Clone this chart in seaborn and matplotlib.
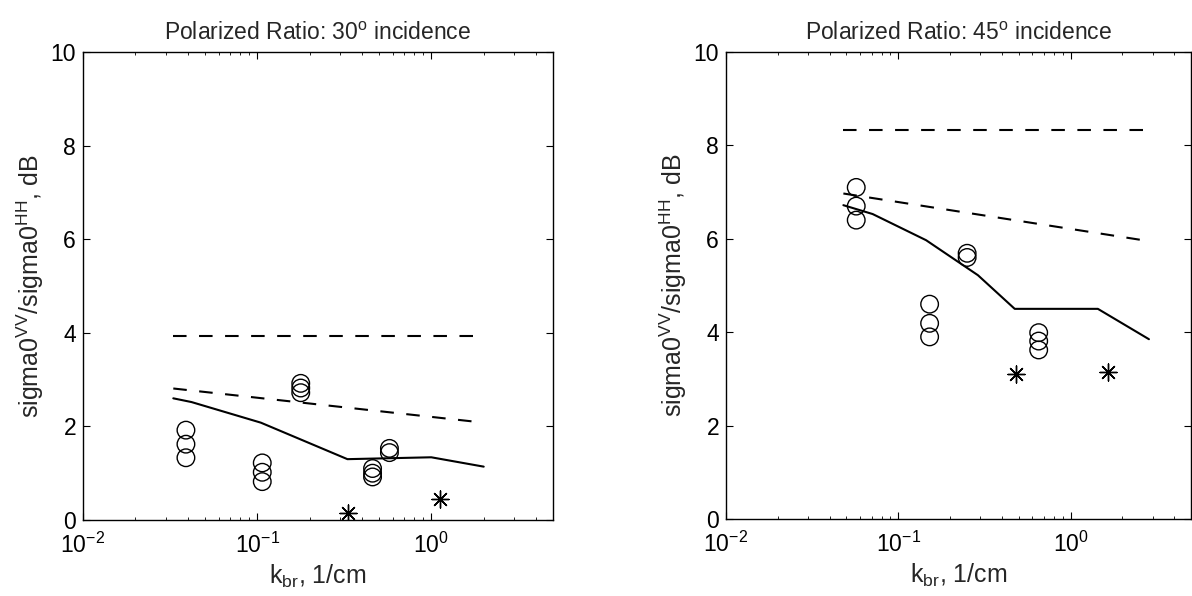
import matplotlib
matplotlib.use("Agg")
import matplotlib.pyplot as plt
from matplotlib.ticker import LogLocator, NullFormatter
import seaborn as sns
import pandas as pd
import numpy as np

# ---------------- data (30 deg panel) ----------------
k30_flat = [0.033, 2.0]
r30_flat = [3.93, 3.93]
k30_slope = [0.033, 2.0]
r30_slope = [2.81, 2.08]
k30_model = [0.033, 0.042, 0.105, 0.33, 1.0, 2.0]
r30_model = [2.60, 2.52, 2.08, 1.30, 1.34, 1.14]
k30_circ = [0.039, 0.039, 0.039, 0.107, 0.107, 0.107, 0.178, 0.178, 0.178,
            0.46, 0.46, 0.46, 0.575, 0.575]
r30_circ = [1.92, 1.62, 1.33, 1.22, 1.02, 0.82, 2.92, 2.82, 2.72,
            1.10, 1.00, 0.92, 1.53, 1.44]
k30_star = [0.333, 1.12]
r30_star = [0.14, 0.44]

# ---------------- data (45 deg panel) ----------------
k45_flat = [0.048, 2.85]
r45_flat = [8.33, 8.33]
k45_slope = [0.048, 2.85]
r45_slope = [6.97, 5.95]
k45_model = [0.048, 0.071, 0.145, 0.29, 0.474, 1.44, 2.85]
r45_model = [6.72, 6.53, 5.97, 5.22, 4.50, 4.50, 3.85]
k45_circ = [0.057, 0.057, 0.057, 0.152, 0.152, 0.152, 0.251, 0.251,
            0.653, 0.653, 0.653]
r45_circ = [7.10, 6.70, 6.40, 4.60, 4.19, 3.90, 5.69, 5.60,
            3.99, 3.81, 3.62]
k45_star = [0.479, 1.64]
r45_star = [3.10, 3.15]

titles = [r"Polarized Ratio: 30$^{\rm o}$ incidence",
          r"Polarized Ratio: 45$^{\rm o}$ incidence"]
xlabel = r"k$_{\rm br}$, 1/cm"
ylabel = r"sigma0$^{\rm VV}$/sigma0$^{\rm HH}$, dB"
yticks = [0, 2, 4, 6, 8, 10]

sns.set_style("ticks")
plt.rcParams["font.family"] = ["Liberation Sans", "DejaVu Sans"]
plt.rcParams["mathtext.fontset"] = "custom"
plt.rcParams["mathtext.rm"] = "Liberation Sans"
plt.rcParams["mathtext.it"] = "Liberation Sans:italic"
plt.rcParams["mathtext.bf"] = "Liberation Sans:bold"

FS = 16.5
LFS = 18

fig = plt.figure(figsize=(11.92, 5.96), dpi=100)
ax1 = fig.add_axes([83 / 1192, 76 / 596, 470 / 1192, 468 / 596])
ax2 = fig.add_axes([726 / 1192, 77 / 596, 465 / 1192, 467 / 596])

panels = [
    (ax1, k30_flat, r30_flat, k30_slope, r30_slope, k30_model, r30_model,
     k30_circ, r30_circ, k30_star, r30_star),
    (ax2, k45_flat, r45_flat, k45_slope, r45_slope, k45_model, r45_model,
     k45_circ, r45_circ, k45_star, r45_star),
]

for i, (ax, kf, rf, ks, rs, km, rm, kc, rc, kst, rst) in enumerate(panels):
    dash = (0, (6.5, 6))
    sns.lineplot(x=kf, y=rf, ax=ax, color="black", lw=1.5, linestyle=dash,
                 sort=False, estimator=None)
    sns.lineplot(x=ks, y=rs, ax=ax, color="black", lw=1.5, linestyle=dash,
                 sort=False, estimator=None)
    sns.lineplot(x=km, y=rm, ax=ax, color="black", lw=1.5,
                 sort=False, estimator=None)
    sns.scatterplot(x=kc, y=rc, ax=ax, marker="o", s=160,
                    facecolor="none", edgecolor="black", linewidth=1.0)
    sns.scatterplot(x=kst, y=rst, ax=ax, marker=(8, 2, 0), s=150,
                    color="black", linewidth=1.0)
    ax.set_xscale("log")
    ax.set_xlim(0.01, 5)
    ax.set_ylim(0, 10)
    ax.set_yticks(yticks)
    ax.xaxis.set_minor_locator(LogLocator(base=10, subs=np.arange(2, 10)))
    ax.xaxis.set_minor_formatter(NullFormatter())
    ax.set_xlabel(xlabel, fontsize=LFS, labelpad=4)
    ax.set_ylabel(ylabel, fontsize=LFS, labelpad=3)
    ax.set_title(titles[i], fontsize=FS, pad=9)
    ax.tick_params(which="both", direction="in", top=True, right=True,
                   labelsize=FS, width=0.8, colors="black")
    ax.tick_params(which="major", length=5)
    ax.tick_params(axis="y", which="major", pad=5)
    ax.tick_params(axis="x", which="major", pad=9)
    ax.tick_params(which="minor", length=2.5, width=0.6)
    for sp in ax.spines.values():
        sp.set_linewidth(1.0)
        sp.set_color("black")

fig.savefig("out.png", dpi=100)
